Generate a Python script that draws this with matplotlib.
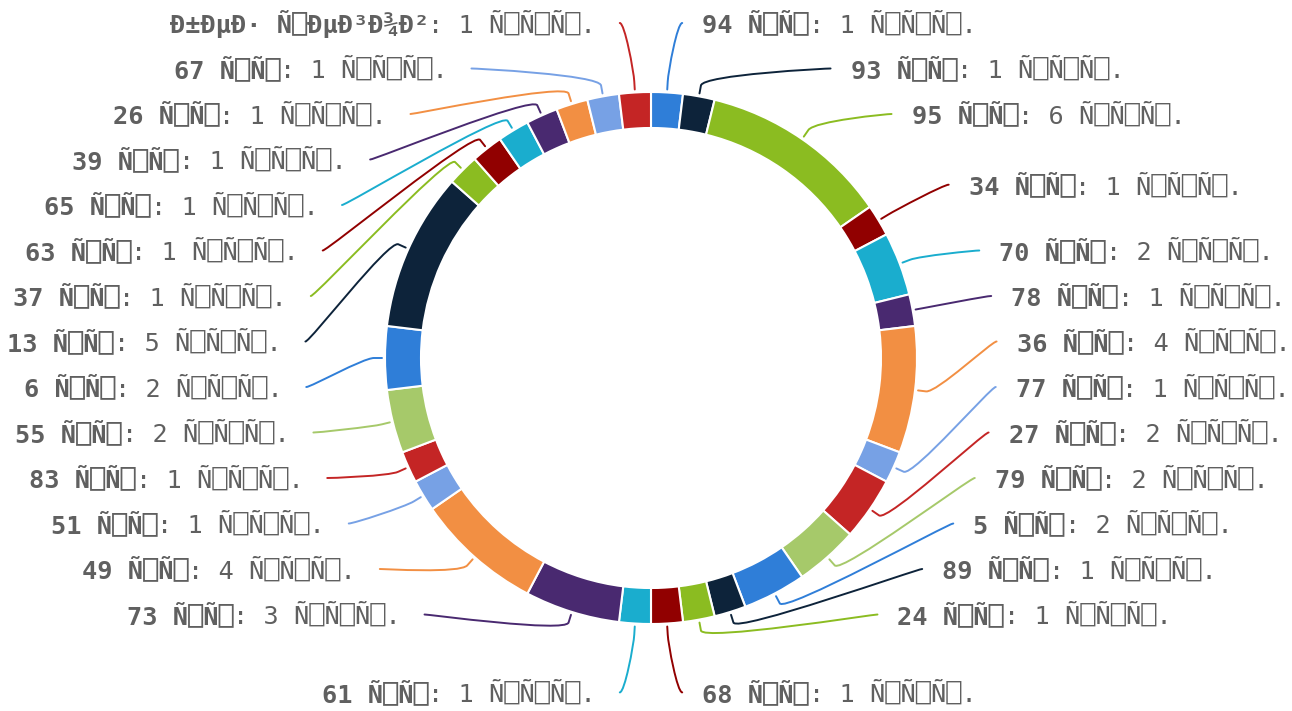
import math

import numpy as np
import matplotlib

matplotlib.use("Agg")
import matplotlib.pyplot as plt
from matplotlib.path import Path
from matplotlib.patches import PathPatch

# ── Data (labels kept exactly as the mis-decoded text shows them) ──────

BOX = "\u2395"
LVL = "Ñ" + BOX + "Ñ" + BOX
PPL = ("Ñ" + BOX) * 3 + "."

levels = ["94", "93", "95", "34", "70", "78", "36", "77", "27", "79", "5",
          "89", "24", "68", "61", "73", "49", "51", "83", "55", "6", "13",
          "37", "63", "65", "39", "26", "67"]
no_level = "Ð±ÐµÐ· Ñ" + BOX + "ÐµÐ³Ð¾Ð²"
counts = [1, 1, 6, 1, 2, 1, 4, 1, 2, 2, 2, 1, 1, 1, 1, 3, 4, 1, 1, 2, 2, 5,
          1, 1, 1, 1, 1, 1, 1]
palette = ["#2f7ed8", "#0d233a", "#8bbc21", "#910000", "#1aadce",
           "#492970", "#f28f43", "#77a1e5", "#c42525", "#a6c96a"]

names = [f"{lv} {LVL}" for lv in levels] + [no_level]
suffixes = [f": {n} {PPL}" for n in counts]
colors = [palette[i % len(palette)] for i in range(len(counts))]

# ── Layout (pixels) ───────────────────────────────────────────────────

W, H = 1292, 711
CX, CY = 651, 358
R_OUT, R_IN = 266, 230
DIST = 69
SLOT_H = 45.5
CONN_OFF = 11
FS = 18.2
CW = 0.602 * FS * 100 / 72
TEXT_COLOR = "#606060"
FONT = ["DejaVu Sans Mono", "DejaVu Sans"]

RL = R_OUT + DIST


def get_x(y, left):
    s = max(-1.0, min(1.0, (y - CY) / RL))
    return CX + (-1 if left else 1) * math.cos(math.asin(s)) * RL


def place_half(idx, nat_y):
    """Slot-based label anti-collision (top-to-bottom order)."""
    slots = list(np.arange(CY - RL, CY + RL + 1e-9, SLOT_H))
    ns, n = len(slots), len(idx)
    used = []
    for j, p in enumerate(idx):
        ny = nat_y[p]
        dists = [abs((s if s is not None else 0.0) - ny) for s in slots]
        k = int(np.argmin(dists))
        if k < j and slots[j] is not None:
            k = j
        elif ns < n - j + k and slots[j] is not None:
            k = ns - n + j
            while k < ns - 1 and slots[k] is None:
                k += 1
        else:
            while k < ns - 1 and slots[k] is None:
                k += 1
        used.append((k, slots[k]))
        slots[k] = None
    used.sort(key=lambda t: t[1])

    out = {}
    for j, p in enumerate(idx):
        k, sy = used[j]
        ny = nat_y[p]
        nxt_free = k + 1 >= ns or slots[k + 1] is not None
        prv_free = k - 1 < 0 or slots[k - 1] is not None
        y = sy
        if (ny > sy and nxt_free) or (ny < sy and prv_free):
            y = ny
        yx = ny if k in (0, ns - 1) else y
        out[p] = (y, yx)
    return out


fig = plt.figure(figsize=(W / 100, H / 100), dpi=100)
ax = fig.add_axes([0, 0, 1, 1])

ax.pie(
    counts,
    colors=colors,
    radius=R_OUT,
    center=(CX, CY),
    startangle=-90,
    counterclock=True,
    wedgeprops=dict(width=R_OUT - R_IN, edgecolor="white", linewidth=1.5),
)
ax.set_xlim(0, W)
ax.set_ylim(H, 0)
ax.set_aspect("equal")
ax.axis("off")

total = sum(counts)
cum = np.concatenate([[0], np.cumsum(counts)])
mid = (cum[:-1] + cum[1:]) / 2
ang = np.radians(-90 + 360 * mid / total)
nat_y = CY + RL * np.sin(ang)
is_left = np.cos(ang) < -1e-9

right_idx = sorted([i for i in range(len(counts)) if not is_left[i]], key=lambda i: ang[i])
left_idx = sorted([i for i in range(len(counts)) if is_left[i]], key=lambda i: -ang[i])

pos = {}
pos.update(place_half(right_idx, nat_y))
pos.update(place_half(left_idx, nat_y))

for i in range(len(counts)):
    y, yx = pos[i]
    left = is_left[i]
    x = get_x(yx, left)
    sgn = -1 if left else 1
    ux, uy = math.cos(ang[i]), math.sin(ang[i])

    # soft connector
    p0 = (x + sgn * 11, y)
    p1 = (x + sgn * 6, y)
    p2 = (CX + (R_OUT + 2 * CONN_OFF) * ux, CY + (R_OUT + 2 * CONN_OFF) * uy)
    p3 = (CX + (R_OUT + CONN_OFF) * ux, CY + (R_OUT + CONN_OFF) * uy)
    p4 = (CX + (R_OUT + 3) * ux, CY + (R_OUT + 3) * uy)
    path = Path([p0, p1, p2, p3, p4],
                [Path.MOVETO, Path.CURVE4, Path.CURVE4, Path.CURVE4, Path.LINETO])
    ax.add_patch(PathPatch(path, facecolor="none", edgecolor=colors[i],
                           linewidth=1.4, capstyle="round"))

    # label: bold name, then the regular count right after it
    name, suf = names[i], suffixes[i]
    n_chars = len(name) + len(suf)
    if left:
        x0 = x - 35 - n_chars * CW
    else:
        x0 = x + 31
    yb = y + 9.5
    ax.text(x0, yb, name, ha="left", va="baseline",
            fontsize=FS, fontweight="bold", color=TEXT_COLOR, family=FONT)
    ax.text(x0 + len(name) * CW, yb, suf, ha="left", va="baseline",
            fontsize=FS, color=TEXT_COLOR, family=FONT)

fig.savefig("out.png", dpi=100)
